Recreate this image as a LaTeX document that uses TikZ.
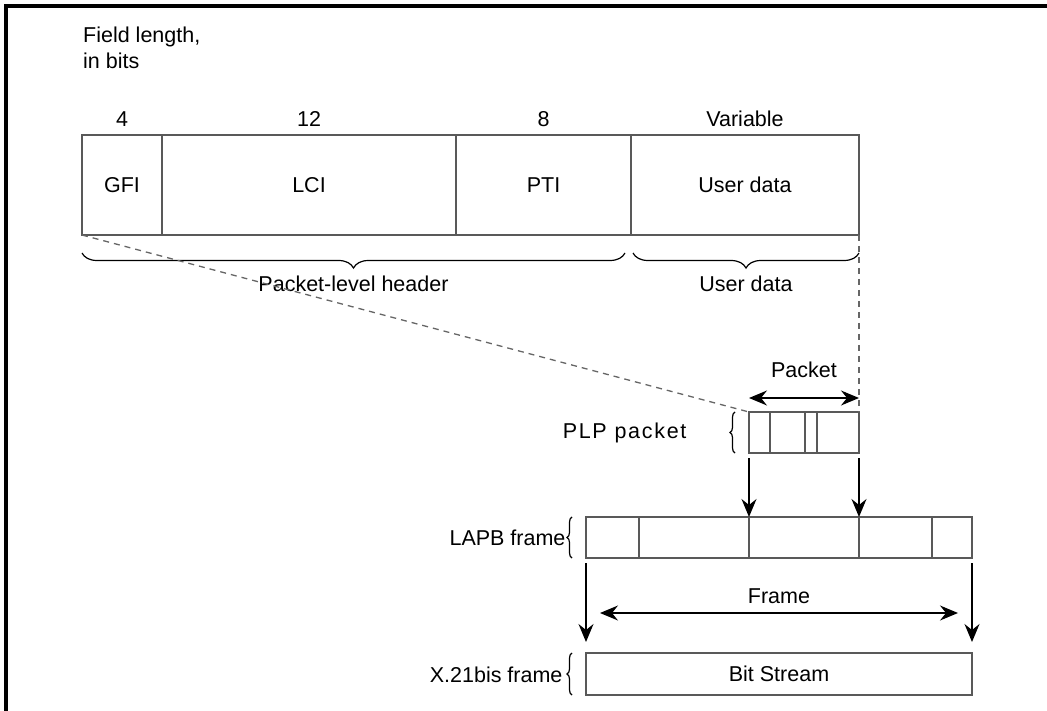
\documentclass[tikz,border=0pt]{standalone}
\usepackage{fontspec}
\setmainfont{Liberation Sans}
\usetikzlibrary{positioning,arrows.meta,decorations.pathreplacing}

\begin{document}
\begin{tikzpicture}[x=1pt,y=-1pt,
    font=\fontsize{21.5}{26}\selectfont,
    field/.style={draw=black!65, line width=1.5pt, inner sep=0pt, outer sep=0pt},
    bigfield/.style={field, minimum height=100pt},
    smallfield/.style={field, minimum height=41pt},
    tip/.tip={Stealth[length=18pt,width=15pt,inset=6pt]},
    arr/.style={-tip, line width=1.4pt},
    dblarr/.style={tip-tip, line width=1.4pt},
    brc/.style={decorate, decoration={brace, mirror, amplitude=#1}, line width=1.2pt},
    guide/.style={dash pattern=on 6pt off 5pt, draw=black!60, line width=1.3pt}]
  \useasboundingbox (0,0) rectangle (1047,711);
  \draw[line width=4pt] (6,711) -- (6,6) -- (1047,6);

  \node[anchor=north west, align=left, inner sep=0pt] (title) at (83,27) {Field length,\\in bits};

  % PLP packet, field by field
  \node[bigfield, minimum width=80pt, anchor=north west] (gfi) at (82,135) {GFI};
  \node[bigfield, minimum width=294pt, right=0pt of gfi] (lci) {LCI};
  \node[bigfield, minimum width=175pt, right=0pt of lci] (pti) {PTI};
  \node[bigfield, minimum width=228pt, right=0pt of pti] (udata) {User data};

  \node[above=5pt of gfi] (len1) {4};
  \node[above=5pt of lci] (len2) {12};
  \node[above=5pt of pti] (len3) {8};
  \node[above=5pt of udata] (len4) {Variable};

  \draw[brc=15pt] ([yshift=-18pt]gfi.south west) -- node[below=19pt] {Packet-level header} ([shift={(-6pt,-18pt)}]pti.south east);
  \draw[brc=15pt] ([shift={(2pt,-18pt)}]udata.south west) -- node[below=19pt] {User data} ([yshift=-18pt]udata.south east);

  % small packet
  \node[smallfield, minimum width=21pt, anchor=north west] (p1) at (749,412) {};
  \node[smallfield, minimum width=35pt, right=0pt of p1] (p2) {};
  \node[smallfield, minimum width=12pt, right=0pt of p2] (p3) {};
  \node[smallfield, minimum width=42pt, right=0pt of p3] (p4) {};

  \draw[guide] (gfi.south west) -- (p1.north west);
  \draw[guide] (udata.south east) -- (p4.north east);
  \draw[dblarr] ([yshift=14pt]p1.north west) -- node[above=16pt] {Packet} ([yshift=14pt]p4.north east);

  \draw[brc=5pt] ([xshift=-14pt]p1.north west) -- ([xshift=-14pt]p1.south west);
  \node[anchor=east] (plplbl) at (690,433) {\addfontfeatures{LetterSpace=8}PLP packet};

  % LAPB frame
  \node[smallfield, minimum width=53pt, anchor=north west] (l1) at (586,517) {};
  \node[smallfield, minimum width=110pt, right=0pt of l1] (l2) {};
  \node[smallfield, minimum width=110pt, right=0pt of l2] (l3) {};
  \node[smallfield, minimum width=73pt, right=0pt of l3] (l4) {};
  \node[smallfield, minimum width=40pt, right=0pt of l4] (l5) {};

  \draw[arr, shorten <=5pt] (p1.south west) -- (l3.north west);
  \draw[arr, shorten <=5pt] (p4.south east) -- (l3.north east);

  \draw[brc=5pt] ([xshift=-14pt]l1.north west) -- ([xshift=-14pt]l1.south west);
  \node[anchor=east] (lapblbl) at (569,538) {LAPB frame};

  % X.21bis frame
  \node[field, minimum width=386pt, minimum height=42pt, anchor=north west] (bits) at (586,653) {Bit Stream};

  \draw[arr, shorten <=5pt, shorten >=11pt] (l1.south west) -- (bits.north west);
  \draw[arr, shorten <=5pt, shorten >=11pt] (l5.south east) -- (bits.north east);
  \coordinate (fa) at (600,613);
  \coordinate (fb) at (958,613);
  \draw[dblarr] (fa) -- node[above=5pt] {Frame} (fb);

  \draw[brc=5pt] ([xshift=-14pt]bits.north west) -- ([xshift=-14pt]bits.south west);
  \node[anchor=east] (x21lbl) at (566,675) {X.21bis frame};
\end{tikzpicture}
\end{document}
